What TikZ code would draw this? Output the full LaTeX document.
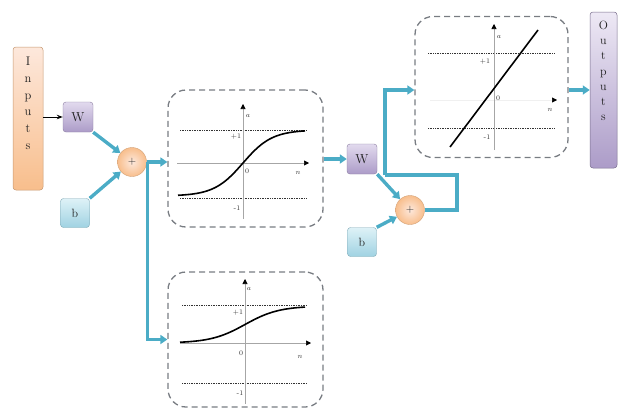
\documentclass[tikz,border=0pt]{standalone}
\usepackage{tikz}
\usetikzlibrary{positioning,arrows.meta,calc}
\definecolor{ink}{RGB}{30,30,30}
\definecolor{wire}{RGB}{75,172,198}
\definecolor{frame}{RGB}{120,124,130}
\definecolor{peachtop}{RGB}{253,232,220}
\definecolor{peachbot}{RGB}{248,190,140}
\definecolor{lavtop}{RGB}{226,218,238}
\definecolor{lavbot}{RGB}{172,156,200}
\definecolor{skytop}{RGB}{222,242,247}
\definecolor{skybot}{RGB}{160,210,226}
\tikzset{
  inbox/.style={draw=peachbot!80!black, top color=peachtop, bottom color=peachbot,
    rounded corners=3pt, inner sep=0pt, line width=0.5pt},
  outbox/.style={draw=lavbot!70!black, top color=lavtop!60!white, bottom color=lavbot,
    rounded corners=3pt, inner sep=0pt, line width=0.5pt},
  vtext/.style={align=center, inner sep=0pt, text=ink},
  wbox/.style={draw=lavbot!80!black, top color=lavtop, bottom color=lavbot, rounded corners=3pt,
    minimum size=30pt, inner sep=0pt, font=\fontsize{13}{13}\selectfont, text=ink, line width=0.4pt},
  bbox/.style={draw=skybot!80!black, top color=skytop, bottom color=skybot, rounded corners=3pt,
    minimum size=29pt, inner sep=0pt, font=\fontsize{12}{12}\selectfont, text=ink, line width=0.4pt},
  sumnode/.style={circle, draw=peachbot!85!black, inner color=peachtop, outer color=peachbot,
    minimum size=29pt, inner sep=0pt, font=\fontsize{11}{11}\selectfont, text=ink, line width=0.4pt},
  plotbox/.style={draw=frame, dash pattern=on 6pt off 4pt, rounded corners=18pt,
    line width=1.3pt, inner sep=0pt},
  flow/.style={-{Triangle[length=7pt, width=9pt]}, line width=3.4pt, draw=wire},
  link/.style={line width=3.4pt, draw=wire},
  inarrow/.style={-{Stealth[length=6pt]}, line width=1pt, draw=black},
  axis/.style={draw=gray!70, line width=0.6pt, -{Triangle[length=5pt, width=5pt, color=black]}},
  bound/.style={densely dotted, line width=0.7pt, draw=black!80},
  curve/.style={line width=1.6pt, draw=black},
  tick/.style={font=\fontsize{7}{7}\selectfont, text=gray!40!black, inner sep=0pt},
}

\begin{document}
\begin{tikzpicture}[x=1pt, y=-1pt]
  \useasboundingbox (0,0) rectangle (620,410);

  \node[inbox, minimum width=30pt, minimum height=143pt] (inputs) at (28,118.5) {};
  \node[vtext, font=\fontsize{12.5}{16.8}\selectfont, below=10pt of inputs.north] (intext) {I\\n\\p\\u\\t\\s};
  \node[outbox, minimum width=27pt, minimum height=156pt] (outputs) at (603.5,90) {};
  \node[vtext, font=\fontsize{12}{15.2}\selectfont, below=9pt of outputs.north] (outtext) {O\\u\\t\\p\\u\\t\\s};

  \node[wbox] (w1) at (78,117) {W};
  \node[bbox] (b1) at (75,213) {b};
  \node[sumnode] (s1) at (132,162) {+};
  \node[wbox] (w2) at (362,159) {W};
  \node[bbox] (b2) at (362,242) {b};
  \node[sumnode] (s2) at (410,210) {+};

  \node[plotbox, minimum width=155pt, minimum height=137pt] (tanhbox) at (245.5,158.5) {};
  \node[plotbox, minimum width=155pt, minimum height=135pt] (sigbox) at (245.5,339.5) {};
  \node[plotbox, minimum width=153pt, minimum height=141pt] (linbox) at (491.5,87) {};

  % tanh
  \draw[bound] (180,130) -- (307,130);
  \draw[bound] (180,198) -- (307,198);
  \draw[axis] (177,163) -- (309,163);
  \draw[axis] (243,219) -- (243,104);
  \draw[curve] plot[domain=178:305, samples=70] (\x, {163-33*tanh((\x-243)/29)});
  \node[tick] (ta) at (248,116) {$a$};
  \node[tick] (tp) at (236,137) {+1};
  \node[tick] (t0) at (247,171) {0};
  \node[tick] (tn) at (298,173) {$n$};
  \node[tick] (tm) at (237,208) {-1};

  % logistic
  \draw[bound] (182,305) -- (307,305);
  \draw[bound] (182,383) -- (307,383);
  \draw[axis] (180,343) -- (311,343);
  \draw[axis] (245,404) -- (245,279);
  \draw[curve] plot[domain=180:305, samples=70] (\x, {343-37/(1+exp(-(\x-245)/17))});
  \node[tick] (sa) at (249,289) {$a$};
  \node[tick] (sp) at (238,313) {+1};
  \node[tick] (s0) at (241,353) {0};
  \node[tick] (sn) at (300,357) {$n$};
  \node[tick] (sm) at (240,393) {-1};

  % linear
  \draw[bound] (428,53) -- (555,53);
  \draw[bound] (428,128) -- (555,128);
  \draw[axis, draw=gray!12] (430,100) -- (557,100);
  \draw[axis] (494,150) -- (494,24);
  \draw[curve] (450,147) -- (538,30);
  \node[tick] (la) at (499,37) {$a$};
  \node[tick] (lp) at (485,62) {+1};
  \node[tick] (l0) at (498,98) {0};
  \node[tick] (ln) at (550,110) {$n$};
  \node[tick] (lm) at (487,137) {-1};

  \draw[inarrow] (inputs.east |- w1) -- (w1.west);
  \draw[flow] (w1.south east) -- (s1);
  \draw[flow] (b1.north east) -- (s1);
  \draw[flow] (s1.east) -- (s1.east -| tanhbox.west);
  \draw[flow] (s1.east) -- ++(1,0) |- (sigbox.west);
  \draw[flow] (tanhbox.east |- w2.west) -- (w2.west);
  \draw[flow] (w2.south east) -- (s2);
  \draw[flow] (b2.north east) -- (s2);
  \coordinate (fork) at (385,175);
  \draw[flow] (fork) |- ($(linbox.west)+(0,3)$);
  \draw[link] (fork) -- ++(72,0) |- (s2.east);
  \draw[flow] (linbox.east |- outputs.west) -- (outputs.west);
\end{tikzpicture}
\end{document}
